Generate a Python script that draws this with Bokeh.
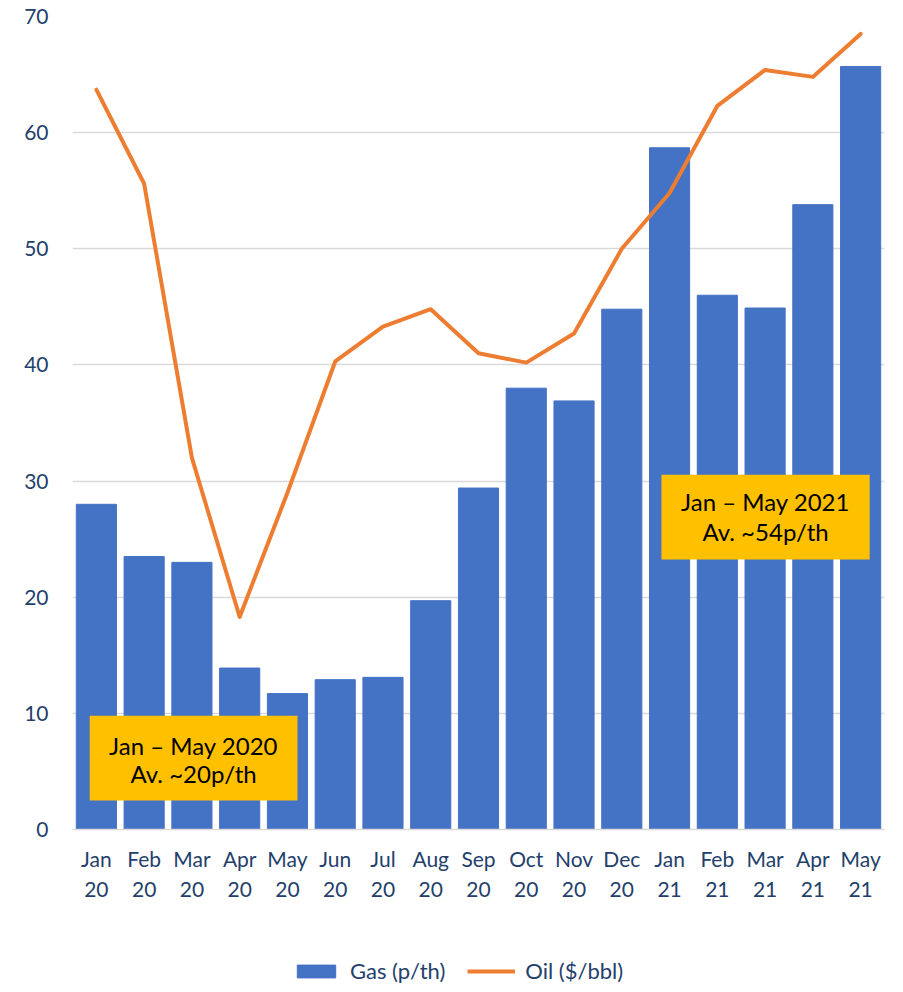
from bokeh.plotting import figure
from bokeh.layouts import column
from bokeh.models import (ColumnDataSource, BoxAnnotation, Label, Legend, LegendItem,
                          FixedTicker, Range1d)
from bokeh.embed import file_html
from bokeh.resources import INLINE

months = ["Jan\n20", "Feb\n20", "Mar\n20", "Apr\n20", "May\n20", "Jun\n20", "Jul\n20",
          "Aug\n20", "Sep\n20", "Oct\n20", "Nov\n20", "Dec\n20", "Jan\n21", "Feb\n21",
          "Mar\n21", "Apr\n21", "May\n21"]
gas = [28.0, 23.5, 23.0, 13.9, 11.7, 12.9, 13.1, 19.7, 29.4, 38.0, 36.9, 44.8, 58.7,
       46.0, 44.9, 53.8, 65.7]
oil = [63.7, 55.6, 32.0, 18.3, 29.0, 40.3, 43.3, 44.8, 41.0, 40.2, 42.7, 50.0, 54.8,
       62.3, 65.4, 64.8, 68.5]
y_ticks = [0, 10, 20, 30, 40, 50, 60, 70]
note1 = ["Jan \u2013 May 2020", "Av. ~20p/th"]
note2 = ["Jan \u2013 May 2021", "Av. ~54p/th"]
series_names = ["Gas (p/th)", "Oil ($/bbl)"]

FONT = "Lato"
TXT = "#243F6B"
BAR_C = "#4472C4"
LINE_C = "#ED7D31"
idx = list(range(len(months)))
src = ColumnDataSource(dict(x=idx, gas=gas, oil=oil))

p = figure(width=890, height=935, output_backend="svg", toolbar_location=None,
           x_range=Range1d(-0.5, len(months) - 0.5), y_range=Range1d(0, 70),
           min_border_left=72, min_border_right=6, min_border_top=16, min_border_bottom=106)
p.outline_line_color = None

bars = p.vbar(x="x", top="gas", width=0.84, source=src, fill_color=BAR_C, line_color=BAR_C)
line = p.line(x="x", y="oil", source=src, line_color=LINE_C, line_width=4,
              line_join="round", line_cap="round")

p.xaxis.ticker = FixedTicker(ticks=idx)
p.xaxis.major_label_overrides = {i: m for i, m in zip(idx, months)}
p.yaxis.ticker = FixedTicker(ticks=y_ticks)
for ax in (p.xaxis, p.yaxis):
    ax.major_tick_line_color = None
    ax.minor_tick_line_color = None
    ax.major_label_text_font = FONT
    ax.major_label_text_font_size = "21px"
    ax.major_label_text_color = TXT
p.yaxis.axis_line_color = None
p.xaxis.axis_line_color = "#D9D9D9"
p.xaxis.axis_line_width = 1.5
p.yaxis.major_label_standoff = 18
p.xaxis.major_label_standoff = 10
p.xgrid.grid_line_color = None
p.ygrid.grid_line_color = "#D9D9D9"
p.ygrid.grid_line_width = 1.5

boxes = [(-0.14, 4.21, 2.5, 9.8, note1, (7.23, 4.82)),
         (11.83, 16.19, 23.25, 30.55, note2, (28.24, 25.66))]
for (l, r, b, t, txt, ys) in boxes:
    p.add_layout(BoxAnnotation(left=l, right=r, bottom=b, top=t, fill_color="#FFC000",
                               fill_alpha=1.0, line_color=None, level="overlay"))
    for line_txt, yy in zip(txt, ys):
        p.add_layout(Label(x=(l + r) / 2, y=yy, text=line_txt, text_align="center",
                           text_baseline="middle", text_font=FONT, text_font_size="24px",
                           text_color="black", level="overlay"))

# legend in its own small figure underneath (proxy glyphs hold NaN, so draw nothing)
lg = figure(width=890, height=55, output_backend="svg", toolbar_location=None,
            x_axis_type=None, y_axis_type=None, x_range=Range1d(0, 1), y_range=Range1d(0, 1),
            min_border_left=72, min_border_right=6, min_border_top=0, min_border_bottom=0)
lg.outline_line_color = None
lg.grid.visible = False
proxy = ColumnDataSource(dict(x=[float("nan")], y=[float("nan")]))
lb = lg.vbar(x="x", top="y", width=0.5, source=proxy, fill_color=BAR_C, line_color=BAR_C)
ll = lg.line(x="x", y="y", source=proxy, line_color=LINE_C, line_width=4)
legend = Legend(items=[LegendItem(label=series_names[0], renderers=[lb]),
                       LegendItem(label=series_names[1], renderers=[ll])],
                orientation="horizontal", location=(220, 6),
                label_text_font=FONT, label_text_font_size="22px", label_text_color=TXT,
                glyph_width=48, glyph_height=16, spacing=22, label_standoff=10,
                border_line_color=None, background_fill_alpha=0, margin=0, padding=4)
lg.add_layout(legend)

layout = column(p, lg, spacing=0)
open("out.html", "w").write(file_html(layout, INLINE))
